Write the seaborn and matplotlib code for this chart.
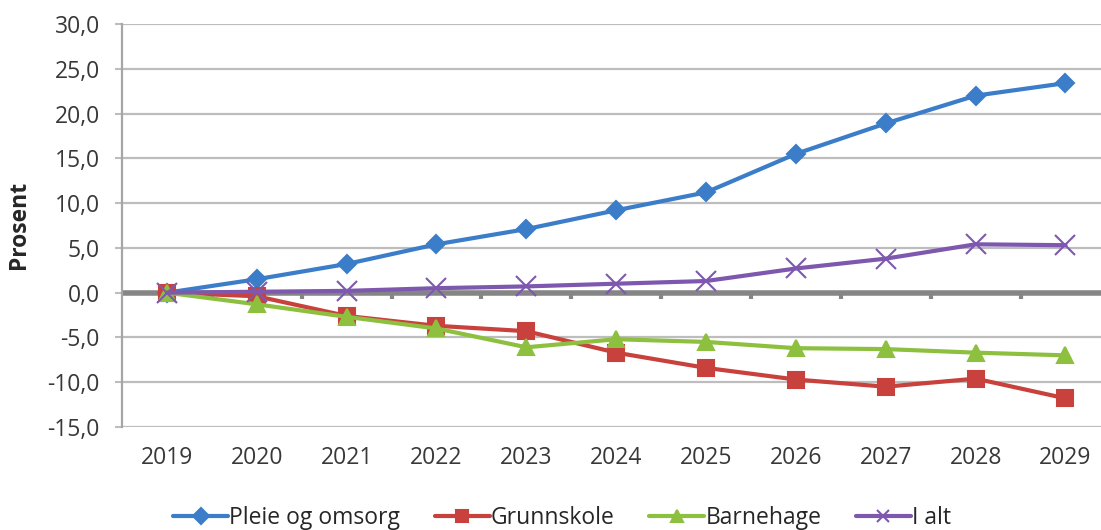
import numpy as np
import pandas as pd
import matplotlib
matplotlib.use('Agg')
import matplotlib.pyplot as plt
from matplotlib.lines import Line2D
import seaborn as sns

# data
years = [2019, 2020, 2021, 2022, 2023, 2024, 2025, 2026, 2027, 2028, 2029]
pleie = [0.0, 1.5, 3.2, 5.4, 7.1, 9.2, 11.2, 15.5, 18.9, 22.0, 23.4]
grunnskole = [0.0, -0.4, -2.6, -3.7, -4.3, -6.7, -8.4, -9.7, -10.5, -9.6, -11.8]
barnehage = [0.0, -1.3, -2.7, -4.0, -6.1, -5.2, -5.5, -6.2, -6.3, -6.7, -7.0]
i_alt = [0.0, 0.1, 0.2, 0.5, 0.7, 1.0, 1.3, 2.7, 3.8, 5.4, 5.3]

series_names = ['Pleie og omsorg', 'Grunnskole', 'Barnehage', 'I alt']
series_values = [pleie, grunnskole, barnehage, i_alt]
colors = ['#3B7DC8', '#C9413C', '#8DC03F', '#7D58AE']
markers = ['D', 's', '^', 'x']
msizes = [9, 11, 11, 14]
y_ticks = [-15, -10, -5, 0, 5, 10, 15, 20, 25, 30]

sns.set_style('white')
plt.rcParams['font.family'] = ['Open Sans', 'DejaVu Sans']

fig = plt.figure(figsize=(11.01, 5.30), dpi=100)
ax = fig.add_axes([122 / 1101, 1 - 427 / 530, (1106 - 122) / 1101, (427 - 24) / 530])

# grid
for y in y_ticks:
    if y != 0:
        ax.axhline(y, color='#BDBDBD', lw=1.6, zorder=0)
ax.axhline(0, color='#858585', lw=4, zorder=1)
mids = np.array(years[:-1]) + 0.5
ax.vlines(mids, -0.75, 0, color='#858585', lw=3, zorder=1)

for name, vals, c, m, ms in zip(series_names, series_values, colors, markers, msizes):
    df = pd.DataFrame({'year': years, 'value': vals})
    sns.lineplot(data=df, x='year', y='value', color=c, marker=m, markersize=ms,
                 markeredgecolor=c, markeredgewidth=1.5, lw=3, ax=ax, zorder=3)

ax.set_xlim(2018.5, 2018.5 + (1101 - 122) / 89.4)
ax.set_ylim(-15, 30)
ax.set_xticks(years)
ax.set_xticklabels([str(y) for y in years], fontsize=16.5, color='#383838')
ax.set_yticks(y_ticks)
ax.set_yticklabels([f'{y:.1f}'.replace('.', ',') for y in y_ticks], fontsize=16.5, color='#383838')
ax.tick_params(axis='x', length=0, pad=14)
ax.tick_params(axis='y', length=5, width=1.5, color='#BDBDBD', pad=11, left=True)
ax.set_xlabel('')
ax.set_ylabel('')

for s in ['top', 'right', 'bottom']:
    ax.spines[s].set_visible(False)
ax.spines['left'].set_color('#A6A6A6')
ax.spines['left'].set_linewidth(1.6)

fig.text(19 / 1101, 1 - 225 / 530, 'Prosent', rotation=90, fontsize=16.5,
         fontweight='bold', va='center', ha='center', color='#262626')

handles = [Line2D([0], [0], color=c, marker=m, lw=3, markersize=8,
                  markeredgecolor=c, markeredgewidth=1.5)
           for c, m in zip(colors, markers)]
fig.legend(handles, series_names, loc='center', bbox_to_anchor=(562 / 1101, 1 - 518 / 530),
           ncol=4, frameon=False, fontsize=16.5, handlelength=2.4, handletextpad=0.05,
           columnspacing=1.5, borderaxespad=0, labelcolor='#262626')

fig.savefig('out.png', dpi=100)
